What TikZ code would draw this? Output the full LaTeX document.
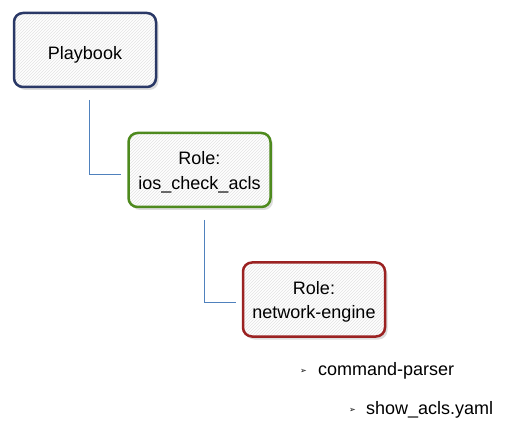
\documentclass[tikz,border=0pt]{standalone}
\usepackage{fontspec}
\setmainfont{Liberation Sans}
\newfontfamily\symfont{DejaVu Sans}
\usepackage{tikz}
\usetikzlibrary{patterns,shadows,calc}
\definecolor{navyline}{RGB}{42,56,102}
\definecolor{leafline}{RGB}{78,138,30}
\definecolor{brickline}{RGB}{155,34,34}
\definecolor{linkline}{RGB}{79,129,189}
\newcommand{\boxtext}[2][6pt]{\raisebox{-#1}[0pt][0pt]{\begin{tabular}{@{}c@{}}#2\end{tabular}}}

\begin{document}
\begin{tikzpicture}[x=1pt, y=-1pt,
  rolebox/.style={rounded corners=9pt, line width=2.5pt, minimum width=142pt, minimum height=74pt,
    align=center, inner sep=0pt,
    drop shadow={shadow xshift=2.5pt, shadow yshift=-3pt, fill=gray!45, opacity=0.6},
    preaction={fill=white},
    preaction={pattern=north east lines, pattern color=gray!22}},
  link/.style={draw=linkline, line width=1pt},
  bullet/.style={anchor=east, inner sep=0pt, text=black, font=\symfont\fontsize{8}{9}\selectfont},
  item/.style={anchor=west, inner sep=0pt}]
\newdimen\gap
\gap=6pt
\fontsize{18}{23}\selectfont
\renewcommand{\arraystretch}{1.05}
\useasboundingbox (0,0) rectangle (530,438);

\node[rolebox, draw=navyline] (play) at (85,50) {\boxtext[9pt]{Playbook}}; % top level
\node[rolebox, draw=leafline] (ios) at (199.5,170) {\boxtext[6.5pt]{Role:\\ios\_check\_acls}};
\node[rolebox, draw=brickline] (neteng) at (314,299.5) {\boxtext[6.5pt]{Role:\\network-engine}};

\coordinate (up1) at (89.5,100);
\coordinate (up2) at (204.5,220);
\draw[link] (up1) |- ($(ios.west)+(-\gap,4.5)$);
\draw[link] (up2) |- ($(neteng.west)+(-\gap,3)$);

\node[item] (cmdparser) at (318,371) {command-parser};
\node[bullet] (b1) at ($(cmdparser.west)+(-11,0)$) {➢};
\node[item] (showacls) at (366,410) {show\_acls.yaml};
\node[bullet] (b2) at ($(showacls.west)+(-10,0)$) {➢};
\end{tikzpicture}
\end{document}
